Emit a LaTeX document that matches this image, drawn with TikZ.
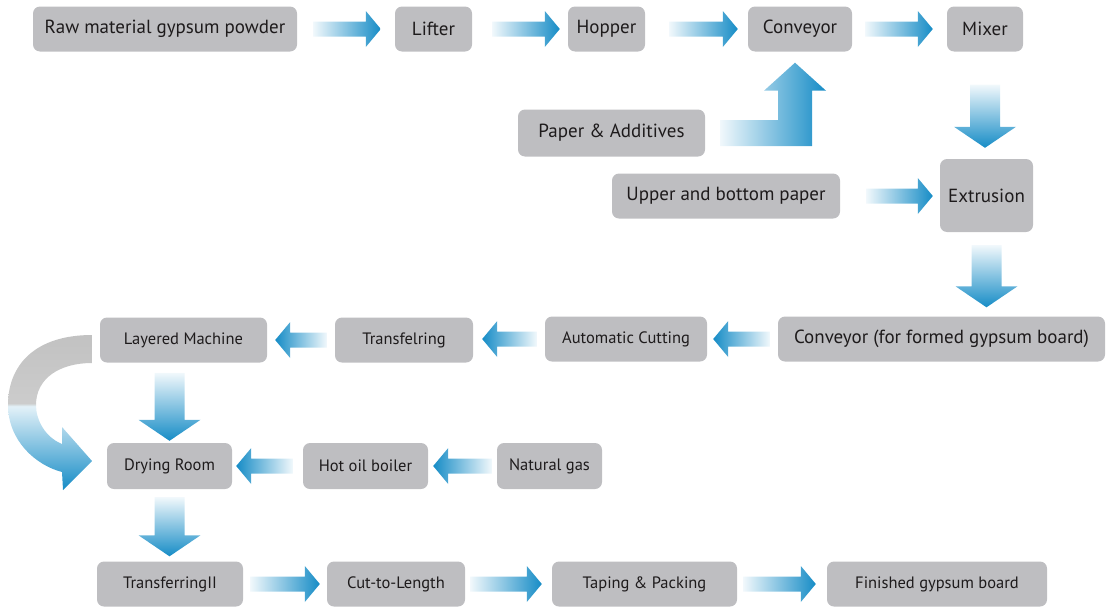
\documentclass[tikz,border=0pt]{standalone}
\usepackage{fontspec}
\setmainfont{PT Sans}
\usetikzlibrary{calc}
\definecolor{ablue}{RGB}{22,140,198}
\definecolor{boxgray}{RGB}{190,190,193}
\definecolor{txt}{RGB}{30,27,28}
\colorlet{apale}{ablue!6}
\colorlet{cblue1}{ablue!12}
\colorlet{cgray1}{black!20}
\colorlet{cgray2}{black!24}
\pgfdeclareverticalshading{curvshade}{100bp}{color(0bp)=(ablue); color(25bp)=(ablue); color(52bp)=(cblue1); color(53bp)=(cgray1); color(75bp)=(cgray2); color(100bp)=(cgray2)}
\newcommand\arrR[2]{\path[left color=apale,right color=ablue] let \p1=#1, \p2=#2 in
  (\x1,\y1+7.5pt) -- (\x2-15pt,\y1+7.5pt) -- (\x2-15pt,\y1+18pt) -- (\x2,\y1) -- (\x2-15pt,\y1-18pt) -- (\x2-15pt,\y1-7.5pt) -- (\x1,\y1-7.5pt) -- cycle;}
\newcommand\arrL[2]{\path[left color=ablue,right color=apale] let \p1=#1, \p2=#2 in
  (\x1,\y1+7.5pt) -- (\x2+15pt,\y1+7.5pt) -- (\x2+15pt,\y1+18pt) -- (\x2,\y1) -- (\x2+15pt,\y1-18pt) -- (\x2+15pt,\y1-7.5pt) -- (\x1,\y1-7.5pt) -- cycle;}
\newcommand\arrD[2]{\path[top color=apale,bottom color=ablue] let \p1=#1, \p2=#2 in
  (\x1-15pt,\y1) -- (\x1-15pt,\y2+21pt) -- (\x1-31pt,\y2+21pt) -- (\x1,\y2) -- (\x1+31pt,\y2+21pt) -- (\x1+15pt,\y2+21pt) -- (\x1+15pt,\y1) -- cycle;}
\begin{document}
\begin{tikzpicture}[x=1pt,y=-1pt,
  box/.style={fill=boxgray, rounded corners=7pt, inner sep=0pt, text=txt, font=\fontsize{19}{22}\selectfont},
  sbox/.style={box, font=\fontsize{16.5}{19}\selectfont}]
\useasboundingbox (0,0) rectangle (1107,608);
% row 1
\node[box, minimum width=264, minimum height=45] (raw) at (165,29) {Raw material gypsum powder};
\node[box, minimum width=77, minimum height=45] (lifter) at (433.5,29) {Lifter};
\node[box, minimum width=77, minimum height=45] (hopper) at (606.5,29) {Hopper};
\node[box, minimum width=104, minimum height=45] (conv) at (800,29) {Conveyor};
\node[box, minimum width=76, minimum height=45] (mixer) at (985,29) {Mixer};
% middle
\node[box, minimum width=187, minimum height=47] (paper) at (611.5,133) {Paper \& Additives};
\node[box, minimum width=228, minimum height=45] (upper) at (726,196) {Upper and bottom paper};
\node[box, minimum width=93, minimum height=73] (extr) at (986.5,195.5) {Extrusion};
% row 3
\node[box, minimum width=327, minimum height=45] (conv2) at (941.5,339) {Conveyor (for formed gypsum board)};
\node[sbox, minimum width=162, minimum height=45] (autocut) at (626,339) {Automatic Cutting};
\node[sbox, minimum width=138, minimum height=45] (transf) at (404,340) {Transfelring};
\node[sbox, minimum width=167, minimum height=45] (layered) at (183.5,340) {Layered Machine};
% row 4
\node[sbox, minimum width=125, minimum height=46] (drying) at (169.5,466) {Drying Room};
\node[sbox, minimum width=125, minimum height=46] (hotoil) at (365.5,466) {Hot oil boiler};
\node[sbox, minimum width=105, minimum height=46] (natgas) at (549.5,466) {Natural gas};
% row 5
\node[sbox, minimum width=146, minimum height=45] (trans2) at (170,584) {TransferringII};
\node[sbox, minimum width=138, minimum height=45] (cut) at (396,584) {Cut-to-Length};
\node[sbox, minimum width=185, minimum height=45] (taping) at (644.5,584) {Taping \& Packing};
\node[sbox, minimum width=220, minimum height=45] (finished) at (937,584) {Finished gypsum board};
% arrows row 1
\arrR{($(raw.east)+(16,0)$)}{($(lifter.west)+(-14,0)$)}
\arrR{($(lifter.east)+(20,0)$)}{($(hopper.west)+(-8,0)$)}
\arrR{($(hopper.east)+(24,0)$)}{($(conv.west)+(-10,0)$)}
\arrR{($(conv.east)+(13,0)$)}{($(mixer.west)+(-14,0)$)}
% down
\arrD{($(mixer.south)+(0,33)$)}{($(extr.north)+(0,-11)$)}
\arrR{($(upper.east)+(26,0)$)}{($(extr.west)+(-7,0)$)}
\arrD{($(extr.south)+(0,13)$)}{($(conv2.north)+(0,-9)$)}
% bent arrow
\path[left color=apale,right color=ablue] let \p1=($(paper.east)+(15,0)$), \p2=($(conv.south)+(-5,11)$) in
  (\x1,\y1+13pt) -- (\x2-17pt,\y1+13pt) -- (\x2-17pt,\y2-28pt) -- (\x2-31pt,\y2-28pt) -- (\x2,\y2) -- (\x2+31pt,\y2-28pt) -- (\x2+17pt,\y2-28pt) -- (\x2+17pt,\y1-13pt) -- (\x1,\y1-13pt) -- cycle;
% row 3 arrows
\arrL{($(conv2.west)+(-8,0)$)}{($(autocut.east)+(6,0)$)}
\arrL{($(autocut.west)+(-8,0)$)}{($(transf.east)+(9,0)$)}
\arrL{($(transf.west)+(-8,0)$)}{($(layered.east)+(8,0)$)}
\arrD{($(drying.north)+(0,-70)$)}{($(drying.north)+(0,-2)$)}
% curved arrow
\path[shading=curvshade] (92,335) .. controls (35,335) and (8,365) .. (8,405) .. controls (8,440) and (35,465) .. (62,472) -- (63,490) -- (92,461) -- (62,427) -- (62,444) .. controls (45,437) and (36,420) .. (36,405) .. controls (36,378) and (60,363) .. (92,363) -- cycle;
% row 4 arrows
\arrL{($(hotoil.west)+(-10,0)$)}{($(drying.east)+(4,0)$)}
\arrL{($(natgas.west)+(-5,0)$)}{($(hotoil.east)+(5,0)$)}
\arrD{($(drying.south)+(0,8)$)}{($(trans2.north)+(0,-5)$)}
% row 5 arrows
\arrR{($(trans2.east)+(7,0)$)}{($(cut.west)+(-7,0)$)}
\arrR{($(cut.east)+(5,0)$)}{($(taping.west)+(-10,0)$)}
\arrR{($(taping.east)+(6,0)$)}{($(finished.west)+(-11,0)$)}
\end{tikzpicture}
\end{document}
